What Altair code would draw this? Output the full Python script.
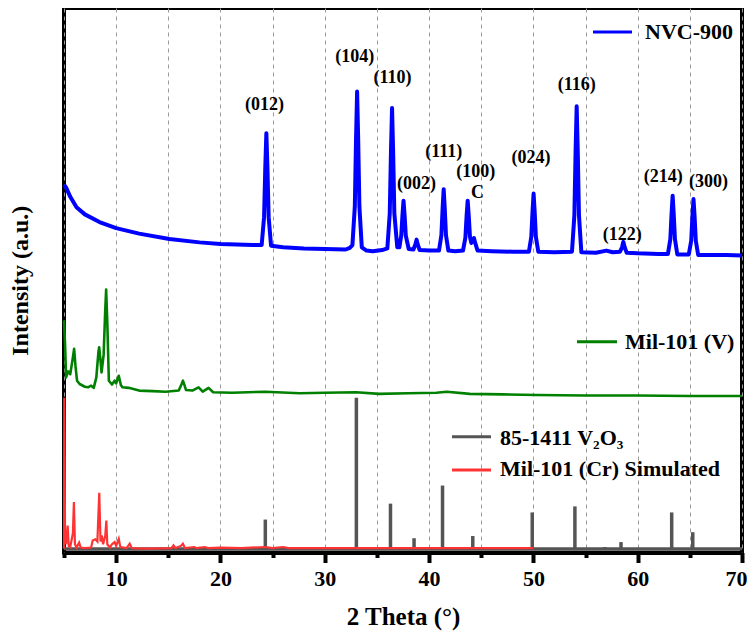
import altair as alt
import pandas as pd

# ---------------- data ----------------
nvc_x = [5.0, 5.2, 5.6, 6.2, 7.0, 8.4, 10.0, 12.2, 15.1, 18.0, 20.0, 23.1, 23.95,
         24.18, 24.3, 24.4, 24.5, 24.62, 24.85, 26.0, 28.0, 30.0, 32.0, 32.4,
         32.65, 32.88, 33.0, 33.1, 33.2, 33.32, 33.55, 34.0, 34.6, 35.5, 36.0,
         36.23, 36.35, 36.45, 36.55, 36.67, 36.95, 37.15, 37.33, 37.45, 37.55,
         37.65, 37.77, 38.05, 38.5, 38.7, 38.8, 38.9, 39.1, 40.0, 40.95, 41.18,
         41.3, 41.4, 41.5, 41.62, 41.85, 42.5, 43.25, 43.48, 43.6, 43.7, 43.8,
         43.92, 44.05, 44.2, 44.3, 44.42, 44.65, 46.0, 48.0, 49.57, 49.8, 49.92,
         50.02, 50.12, 50.24, 50.47, 52.0, 53.7, 53.93, 54.05, 54.15, 54.25,
         54.37, 54.6, 56.0, 57.0, 57.6, 58.3, 58.5, 58.62, 58.75, 58.95, 60.0,
         62.0, 62.9, 63.13, 63.25, 63.35, 63.45, 63.57, 63.8, 64.3, 64.9, 65.13,
         65.25, 65.35, 65.45, 65.57, 65.8, 67.0, 68.5, 70.0]
nvc_y = [67.0, 66.5, 64.8, 62.9, 61.6, 60.2, 59.1, 58.1, 57.1, 56.5, 56.2, 56.0, 56.0,
         61.1, 70.3, 76.4, 70.3, 61.1, 55.9, 55.6, 55.4, 55.3, 55.2, 55.5,
         56.0, 63.0, 75.6, 84.0, 75.6, 63.0, 55.6, 55.0, 54.9, 55.1, 55.4,
         61.8, 73.3, 81.0, 73.3, 61.8, 55.6, 55.6, 57.7, 61.5, 64.1,
         61.5, 57.7, 55.3, 55.2, 56.2, 57.0, 56.2, 55.1, 55.0, 55.0, 57.8,
         62.8, 66.2, 62.8, 57.8, 55.0, 54.9, 55.0, 57.3, 61.4, 64.1, 61.4,
         57.5, 56.4, 57.0, 57.3, 56.4, 55.0, 54.9, 54.8, 54.8, 57.5, 62.2,
         65.4, 62.2, 57.5, 54.8, 54.7, 54.8, 61.4, 73.4, 81.3, 73.4,
         61.4, 54.7, 54.6, 55.0, 54.7, 54.8, 55.6, 56.6, 55.6, 54.6, 54.5,
         54.4, 54.4, 57.1, 61.8, 65.0, 61.8, 57.1, 54.3, 54.3, 54.3, 56.8,
         61.4, 64.4, 61.4, 56.8, 54.2, 54.2, 54.2, 54.1]

mil_v_x = [5.0, 5.1, 5.2, 5.4, 5.6, 5.85, 5.97, 6.1, 6.25, 6.5, 7.0, 7.3, 7.6, 7.85,
           8.1, 8.3, 8.37, 8.5, 8.6, 8.8, 8.95, 9.04, 9.15, 9.3, 9.6, 9.85, 10.0,
           10.25, 10.45, 10.6, 11.2, 12.2, 13.5, 14.75, 16.0, 16.3, 16.4, 16.55,
           16.7, 17.3, 17.9, 18.3, 18.86, 19.3, 21.1, 24.3, 27.6, 30.0, 33.0,
           35.2, 38.0, 40.7, 41.7, 43.9, 47.0, 50.3, 55.0, 59.9, 65.0, 70.0]
mil_v_y = [42.3, 38.0, 31.9, 33.0, 32.5, 35.5, 37.1, 34.0, 31.3, 30.7, 30.2, 30.1, 30.4, 30.0,
           31.9, 36.5, 37.4, 35.0, 32.8, 36.0, 44.0, 47.9, 42.0, 31.3, 30.6, 31.3, 30.8,
           32.2, 30.5, 30.1, 30.0, 29.5, 29.4, 29.3, 29.5, 30.8, 31.3, 30.5,
           29.6, 29.5, 30.1, 29.3, 30.0, 29.2, 29.1, 29.3, 29.0, 29.1, 29.2,
           28.9, 29.0, 29.1, 29.3, 28.9, 28.8, 28.7, 28.6, 28.6, 28.5, 28.5]

cr_sim_x = [5.0, 5.03, 5.1, 5.2, 5.35, 5.45, 5.6, 5.85, 5.95, 6.05, 6.2, 6.45, 6.6,
            7.0, 7.6, 7.75, 8.0, 8.2, 8.38, 8.5, 8.62, 8.75, 8.95, 9.06, 9.15,
            9.4, 9.6, 9.85, 10.0, 10.25, 10.4, 11.0, 11.3, 11.5, 13.0, 15.3,
            15.5, 15.7, 16.2, 16.4, 16.6, 17.5, 17.7, 18.5, 18.8, 20.0, 22.0,
            24.3, 25.0, 26.0, 26.5, 30.0, 40.0, 50.0]
cr_sim_y = [0.7, 28.2, 3.0, 1.5, 4.9, 1.2, 1.0, 3.5, 9.2, 1.5, 0.9, 1.8, 0.9,
            0.8, 0.9, 2.2, 2.4, 2.0, 10.9, 2.0, 3.1, 1.5, 3.0, 5.8, 1.5,
            0.9, 1.5, 1.9, 1.2, 2.5, 1.0, 0.8, 1.6, 0.8, 0.7, 0.8,
            1.3, 0.8, 1.2, 1.6, 0.8, 1.0, 0.8, 1.0, 0.8, 0.9, 0.8,
            1.0, 0.8, 1.0, 0.8, 0.8, 0.8, 0.8]

v2o3_pos = [24.3, 33.03, 36.3, 38.56, 41.29, 44.19, 49.89, 53.98, 56.86, 58.4, 63.26, 65.28]
v2o3_int = [6.0, 28.2, 8.9, 2.6, 12.2, 3.0, 7.3, 8.4, 1.0, 1.9, 7.3, 3.7]
v2o3_base_x = [5.0, 70.0]
v2o3_base_y = [0.7, 0.7]

peak_labels = ["(012)", "(104)", "(110)", "(002)", "(111)", "(100)", "C",
               "(024)", "(116)", "(122)", "(214)", "(300)"]
label_x = [24.23, 32.87, 36.49, 38.79, 41.41, 44.48, 44.64, 49.76, 54.15, 58.52, 62.46, 66.78]
label_y = [81.5, 90.3, 86.4, 67.2, 73.0, 69.4, 65.5, 71.8, 85.2, 57.8, 68.5, 67.5]

legend_names = ["NVC-900", "Mil-101 (V)", "85-1411 V₂O₃", "Mil-101 (Cr) Simulated"]
legend_colors = ["#0000FF", "#008000", "#555555", "#FF3333"]

# ---------------- frames ----------------
nvc = pd.DataFrame({"x": nvc_x, "y": nvc_y, "o": range(len(nvc_x))})
milv = pd.DataFrame({"x": mil_v_x, "y": mil_v_y, "o": range(len(mil_v_x))})
crs = pd.DataFrame({"x": cr_sim_x, "y": cr_sim_y, "o": range(len(cr_sim_x))})
v2o3 = pd.DataFrame({"x": v2o3_pos, "y": v2o3_int, "y0": [0.7] * len(v2o3_pos)})
v2o3_base = pd.DataFrame({"x": v2o3_base_x, "y": v2o3_base_y})
labels = pd.DataFrame({"t": peak_labels, "x": label_x, "y": label_y})

FONT = "Liberation Serif"
W, H = 678, 544.5
YMAX = 99.2

xscale = alt.Scale(domain=[5, 70], nice=False, zero=False)
yscale = alt.Scale(domain=[0, YMAX], nice=False, zero=False)

xaxis = alt.Axis(
    values=list(range(5, 71, 5)),
    labelExpr="datum.value % 10 === 0 ? datum.label : ''",
    title="2 Theta (°)",
    grid=True, gridDash=[4, 4], gridColor="#9a9a9a", gridWidth=1,
    tickSize={"condition": {"test": "datum.value % 10 === 0", "value": 10}, "value": 5},
    tickWidth=4, tickColor="black",
    domainColor="black", domainWidth=4,
    labelFont=FONT, labelFontSize=22, labelFontWeight="bold", labelColor="black",
    labelPadding=6, labelFlush=True, labelFlushOffset=5,
    titleFont=FONT, titleFontSize=25, titleFontWeight="bold", titleColor="black",
    titlePadding=15,
)
yaxis = alt.Axis(
    labels=False, ticks=False, grid=False, domain=False,
    title="Intensity (a.u.)",
    titleFont=FONT, titleFontSize=24, titleFontWeight="bold", titleColor="black",
    titlePadding=32,
)

X = alt.X("x:Q", scale=xscale, axis=xaxis)
Y = alt.Y("y:Q", scale=yscale, axis=yaxis)
Xn = alt.X("x:Q", scale=xscale)
Yn = alt.Y("y:Q", scale=yscale)

blue = alt.Chart(nvc).mark_line(color=legend_colors[0], strokeWidth=4, strokeJoin="round").encode(
    x=X, y=Y, order="o:Q")
green = alt.Chart(milv).mark_line(color=legend_colors[1], strokeWidth=2.6, strokeJoin="round").encode(
    x=Xn, y=Yn, order="o:Q")
grey_base = alt.Chart(v2o3_base).mark_line(color=legend_colors[2], strokeWidth=3).encode(x=Xn, y=Yn)
grey = alt.Chart(v2o3).mark_rule(color=legend_colors[2], strokeWidth=3.5, strokeCap="butt").encode(
    x=Xn, y=Yn, y2="y0:Q")
red = alt.Chart(crs).mark_line(color=legend_colors[3], strokeWidth=2.2, strokeJoin="miter").encode(
    x=Xn, y=Yn, order="o:Q")
peak_txt = alt.Chart(labels).mark_text(font=FONT, fontSize=18, fontWeight="bold", color="black",
                                       baseline="middle", align="center").encode(
    x=Xn, y=Yn, text="t:N")

# ---------------- custom legend entries ----------------
leg_line_x = [529, 513, 388, 388]
leg_line_x2 = [568, 553, 427, 427]
leg_line_y = [24, 333.7, 428.7, 462]
leg_text_x = [581, 561, 436, 436]
leg_text_y = [24, 333.5, 430, 461.3]

legend_layers = []
for i, name in enumerate(legend_names):
    d = pd.DataFrame({"name": [name]})
    legend_layers.append(
        alt.Chart(d).mark_rule(color=legend_colors[i], strokeWidth=3).encode(
            x=alt.value(leg_line_x[i]), x2=alt.value(leg_line_x2[i]), y=alt.value(leg_line_y[i]))
    )
    legend_layers.append(
        alt.Chart(d).mark_text(font=FONT, fontSize=22, fontWeight="bold", color="black",
                               align="left", baseline="middle").encode(
            x=alt.value(leg_text_x[i]), y=alt.value(leg_text_y[i]), text="name:N")
    )

chart = alt.layer(blue, green, grey_base, grey, red, peak_txt, *legend_layers).properties(
    width=W, height=H,
    background="white",
    autosize=alt.AutoSizeParams(type="none"),
    padding={"left": 56, "top": 0, "right": 6, "bottom": 80},
).configure_view(stroke="black", strokeWidth=4)

chart.save("out.html", embed_options={"renderer": "svg", "actions": False})
